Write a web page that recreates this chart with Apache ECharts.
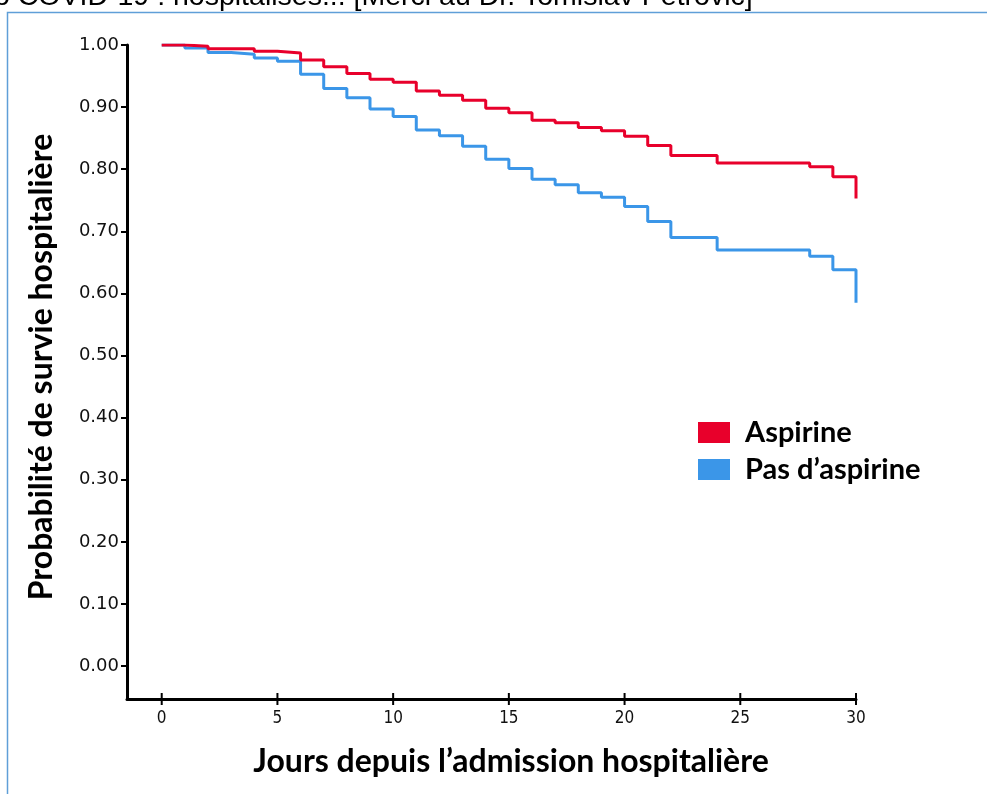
<!DOCTYPE html>
<html>
<head>
<meta charset="utf-8">
<script src="https://cdn.jsdelivr.net/npm/echarts@6/dist/echarts.min.js"></script>
<style>
html,body{margin:0;padding:0;background:#fff;}
#chart{width:987px;height:794px;}
</style>
</head>
<body>
<div id="chart"></div>
<script>
// Days since hospital admission
const days = [0,1,2,3,4,5,6,7,8,9,10,11,12,13,14,15,16,17,18,19,20,21,22,23,24,25,26,27,28,29,30];
// Survival probability, aspirin group
const aspirine = [1.000,0.998,0.994,0.994,0.990,0.987,0.976,0.965,0.954,0.945,0.940,0.926,0.919,0.911,0.898,0.891,0.879,0.875,0.867,0.862,0.853,0.838,0.822,0.822,0.810,0.810,0.810,0.810,0.804,0.788,0.753];
// Survival probability, no aspirin group
const pasAspirine = [1.000,0.995,0.988,0.985,0.979,0.974,0.953,0.930,0.915,0.897,0.885,0.863,0.854,0.837,0.816,0.801,0.784,0.775,0.762,0.755,0.740,0.716,0.690,0.690,0.670,0.670,0.670,0.670,0.660,0.638,0.585];
// Tick values
const xTicks = [0,5,10,15,20,25,30];
const yTicks = [0,0.1,0.2,0.3,0.4,0.5,0.6,0.7,0.8,0.9,1.0];

const seriesNames = ['Aspirine', "Pas d\u2019aspirine"];
const colors = ['#e8002b', '#3b96e8'];
const X_MIN = -1.5, X_MAX = 30, Y_MIN = -0.053, Y_MAX = 1.0;

const chart = echarts.init(document.getElementById('chart'));
const zip = (xs, ys) => xs.map((x, i) => [x, ys[i]]);

chart.setOption({
  animation: false,
  backgroundColor: '#ffffff',
  grid: { left: 127, right: 131, top: 45, bottom: 95, containLabel: false },
  xAxis: {
    type: 'value', min: X_MIN, max: X_MAX,
    splitLine: { show: false },
    axisLine: { show: true, onZero: false, lineStyle: { color: '#000', width: 3 } },
    axisTick: { show: false },
    axisLabel: { show: true, customValues: xTicks, margin: 11, color: '#111',
      fontFamily: "'Liberation Sans Narrow','DejaVu Sans Condensed',sans-serif", fontSize: 17 }
  },
  yAxis: {
    type: 'value', min: Y_MIN, max: Y_MAX,
    splitLine: { show: false },
    axisLine: { show: true, onZero: false, lineStyle: { color: '#000', width: 3 } },
    axisTick: { show: true, customValues: yTicks, length: 6, lineStyle: { color: '#000', width: 2 } },
    axisLabel: { show: true, customValues: yTicks, margin: 8, color: '#111',
      fontFamily: "'DejaVu Sans',sans-serif", fontSize: 18,
      formatter: v => v.toFixed(2) }
  },
  legend: {
    orient: 'vertical', left: 698, top: 418, padding: 0,
    itemWidth: 32, itemHeight: 21, itemGap: 8,
    icon: 'rect',
    data: seriesNames,
    textStyle: { fontFamily: "Lato, 'Open Sans', sans-serif", fontWeight: 'bold', fontSize: 29, color: '#000', padding: [0,0,0,10] }
  },
  series: [{
    name: seriesNames[1], type: 'line', step: 'end', showSymbol: false, symbol: 'none',
    data: zip(days, pasAspirine), color: colors[1],
    itemStyle: { color: colors[1] },
    lineStyle: { color: colors[1], width: 3 }, z: 2
  }, {
    name: seriesNames[0], type: 'line', step: 'end', showSymbol: false, symbol: 'none',
    data: zip(days, aspirine), color: colors[0],
    itemStyle: { color: colors[0] },
    lineStyle: { color: colors[0], width: 3 }, z: 3
  }, {
    // crossing tick marks on the x axis, placed through the axis scale
    name: 'xticks', type: 'custom', silent: true, z: 4, clip: false,
    data: xTicks.map(v => [v]),
    encode: { x: 0 },
    renderItem: (params, api) => {
      const p = api.coord([api.value(0), Y_MIN]);
      return { type: 'line', shape: { x1: p[0], y1: p[1] - 6, x2: p[0], y2: p[1] + 6 },
        style: { stroke: '#000', lineWidth: 2 } };
    }
  }],
  graphic: [{
    type: 'rect', silent: true, z: -1,
    shape: { x: 7.5, y: 12.5, width: 1000, height: 800 },
    style: { fill: 'none', stroke: '#5f9fd8', lineWidth: 1.5 }
  }, {
    type: 'text', silent: true, x: -6, y: -3,
    style: { text: 'o COVID-19 : hospitalis\u00e9s... [Merci au Dr. Tomislav Petrovic]',
      verticalAlign: 'middle',
      font: "28.5px 'Liberation Sans', sans-serif", fill: '#000' }
  }, {
    type: 'text', silent: true,
    x: 42, y: 367, rotation: Math.PI / 2,
    style: { text: 'Probabilit\u00e9 de survie hospitali\u00e8re', align: 'center', verticalAlign: 'middle',
      font: "bold 32px Lato, 'Open Sans', sans-serif", fill: '#000' }
  }, {
    type: 'text', silent: true,
    x: 511, y: 762,
    style: { text: 'Jours depuis l\u2019admission hospitali\u00e8re', align: 'center', verticalAlign: 'middle',
      font: "bold 32px Lato, 'Open Sans', sans-serif", fill: '#000' }
  }]
});
</script>
</body>
</html>
